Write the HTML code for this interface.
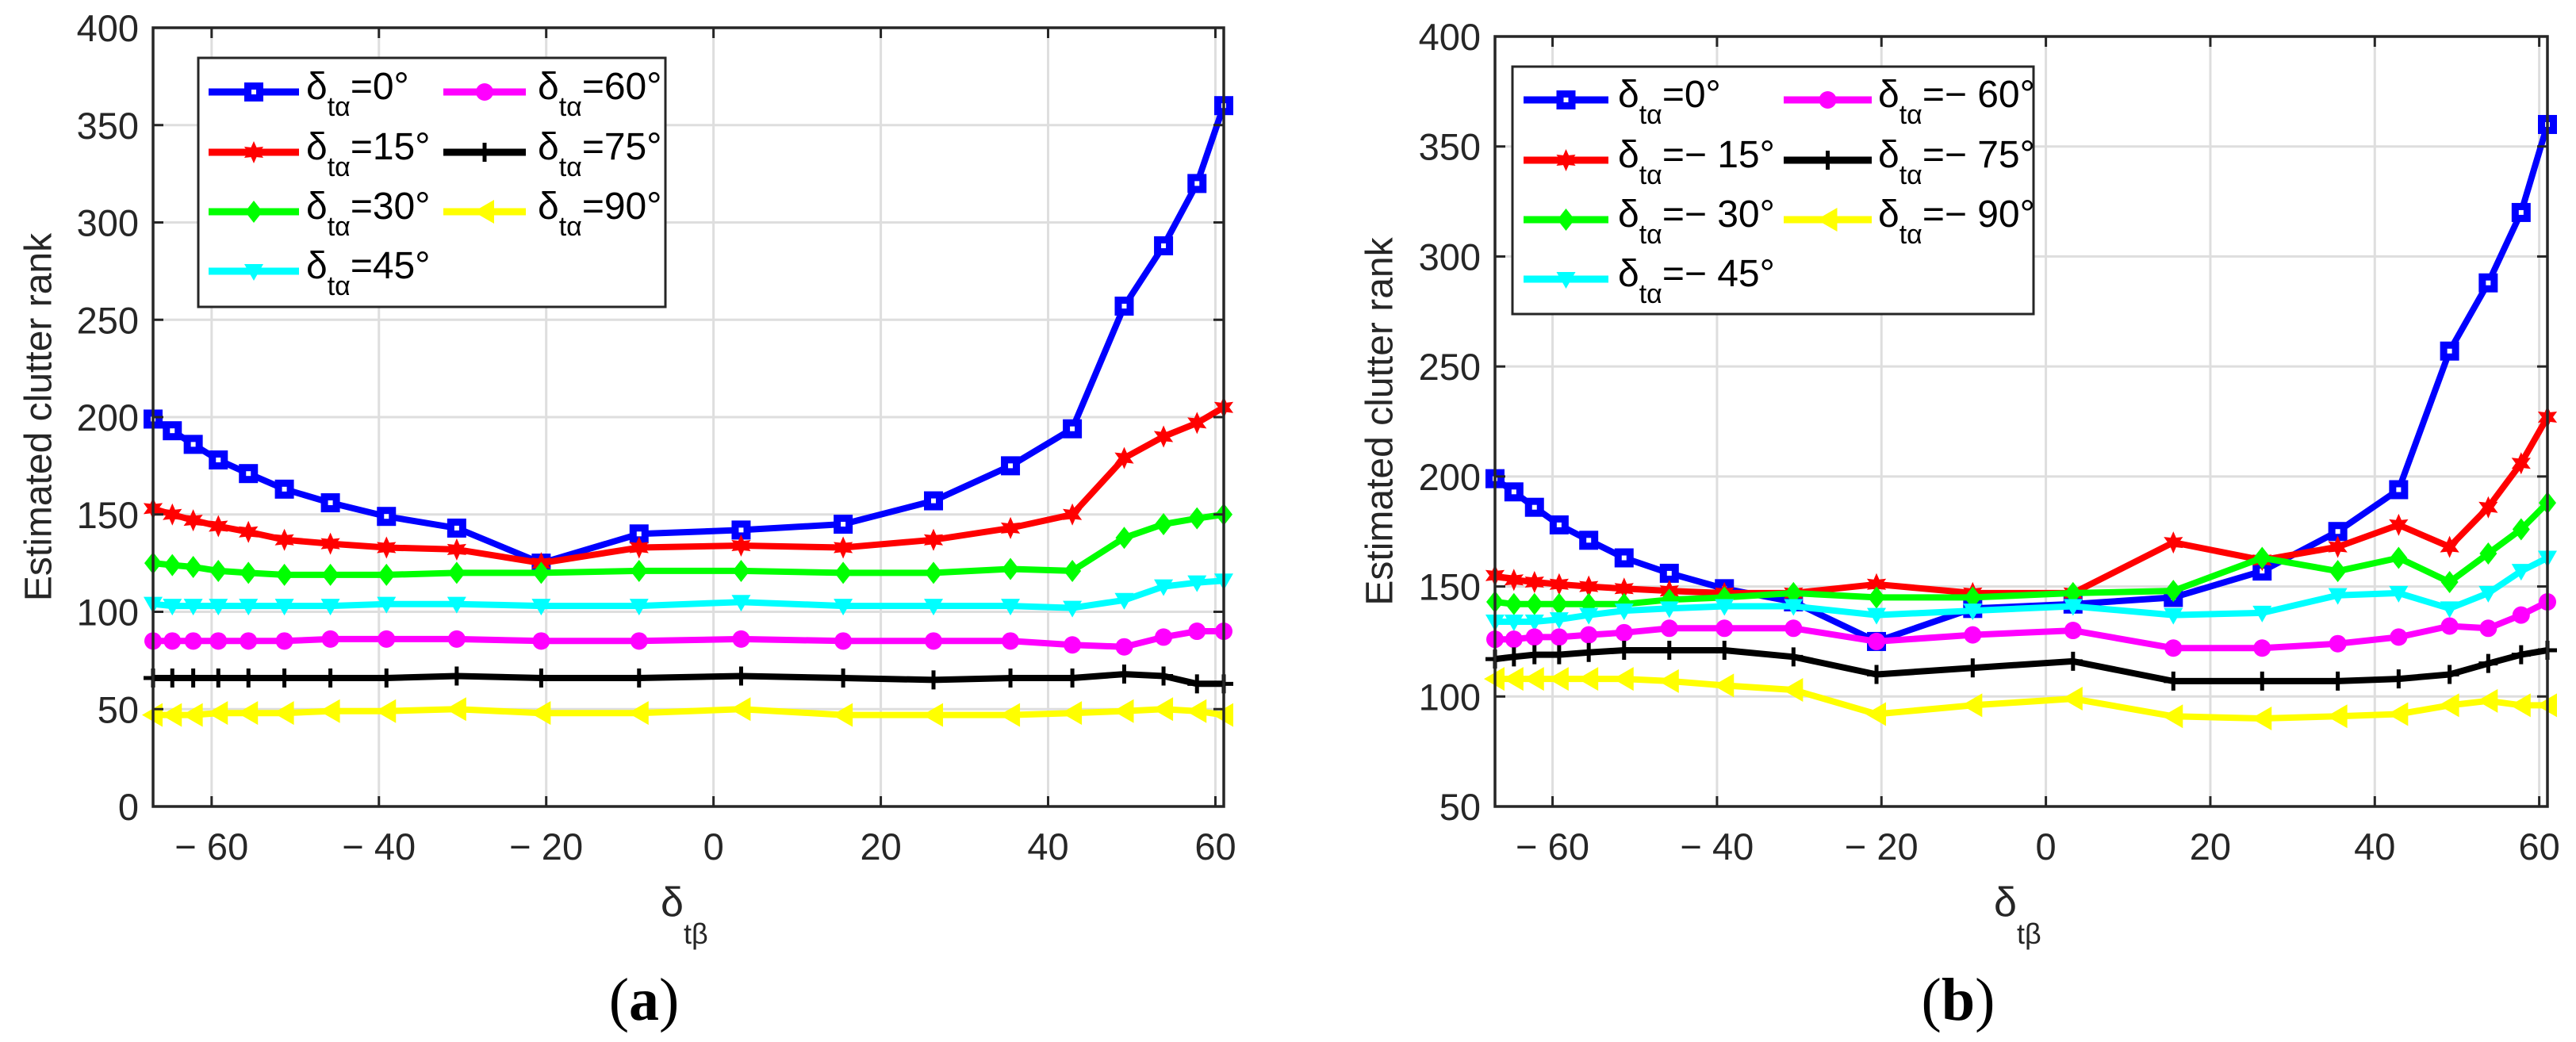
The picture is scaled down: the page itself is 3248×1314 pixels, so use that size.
<!DOCTYPE html>
<html><head><meta charset="utf-8"><style>
html,body{margin:0;padding:0;background:#fff}
svg{display:block}
text{font-family:"Liberation Sans",sans-serif;fill:#262626}
</style></head><body>
<svg id="fig" width="3248" height="1314" viewBox="0 0 3248 1314" xmlns="http://www.w3.org/2000/svg"></svg>
<script>
const xValues = [-67,-64.7,-62.2,-59.2,-55.6,-51.3,-45.8,-39.1,-30.7,-20.6,-8.9,3.3,15.5,26.3,35.5,42.9,49.1,53.8,57.8,61];
const xTicks = [-60,-40,-20,0,20,40,60];
const xTickLabels = ["\u2212 60","\u2212 40","\u2212 20","0","20","40","60"];
const yTicksA = [0,50,100,150,200,250,300,350,400];
const yTicksB = [50,100,150,200,250,300,350,400];
const seriesNames = ["0","15","30","45","60","75","90"];
const legendA = ["=0°","=15°","=30°","=45°","=60°","=75°","=90°"];
const legendB = ["=0°","=\u2212 15°","=\u2212 30°","=\u2212 45°","=\u2212 60°","=\u2212 75°","=\u2212 90°"];
const aBlue = [199,193,186,178,171,163,156,149,143,125,140,142,145,157,175,194,257,288,320,360];
const aRed = [153,150,147,144,141,137,135,133,132,125,133,134,133,137,143,150,179,190,197,205];
const aGreen = [125,124,123,121,120,119,119,119,120,120,121,121,120,120,122,121,138,145,148,150];
const aCyan = [104,103,103,103,103,103,103,104,104,103,103,105,103,103,103,102,106,113,115,116];
const aMagenta = [85,85,85,85,85,85,86,86,86,85,85,86,85,85,85,83,82,87,90,90];
const aBlack = [66,66,66,66,66,66,66,66,67,66,66,67,66,65,66,66,68,67,63,63];
const aYellow = [47,47,47,48,48,48,49,49,50,48,48,50,47,47,47,48,49,50,49,47];
const bBlue = [199,193,186,178,171,163,156,149,143,125,140,142,145,157,175,194,257,288,320,360];
const bRed = [155,153,152,151,150,149,148,147,147,151,147,147,170,162,168,178,168,186,206,227];
const bGreen = [143,142,142,142,142,142,144,145,147,145,145,147,148,163,157,163,152,165,176,188];
const bCyan = [134,134,134,135,137,139,140,141,141,137,139,141,137,138,146,147,140,147,157,163];
const bMagenta = [126,126,127,127,128,129,131,131,131,125,128,130,122,122,124,127,132,131,137,143];
const bBlack = [117,118,119,119,120,121,121,121,118,110,113,116,107,107,107,108,110,115,119,121];
const bYellow = [108,108,108,108,108,108,107,105,103,92,96,99,91,90,91,92,96,98,96,96];

const colors = ["#0000ff","#ff0000","#00ff00","#00ffff","#ff00ff","#000000","#ffff00"];
const markers = ["square","hexagram","diamond","down","circle","plus","left"];
const NS = "http://www.w3.org/2000/svg";
const svg = document.getElementById('fig');
function el(tag, attrs, parent){const e=document.createElementNS(NS,tag);for(const k in attrs)e.setAttribute(k,attrs[k]);(parent||svg).appendChild(e);return e;}

function marker(g, type, x, y, c){
  const s=12; let m;
  if(type==="square"){
    m=el('rect',{x:x-s,y:y-s,width:2*s,height:2*s,fill:c},g);
    el('rect',{x:x-3,y:y-3,width:6,height:6,fill:"#fff"},g);
  } else if(type==="hexagram"){
    let p=[];for(let i=0;i<12;i++){const r=i%2?7:14;const a=Math.PI/2+i*Math.PI/6;p.push((x+r*Math.cos(a)).toFixed(1)+","+(y-r*Math.sin(a)).toFixed(1));}
    m=el('polygon',{points:p.join(" "),fill:c},g);
  } else if(type==="diamond"){
    m=el('polygon',{points:`${x},${y-14} ${x+11},${y} ${x},${y+14} ${x-11},${y}`,fill:c},g);
  } else if(type==="down"){
    m=el('polygon',{points:`${x-12},${y-9} ${x+12},${y-9} ${x},${y+12}`,fill:c},g);
  } else if(type==="circle"){
    m=el('circle',{cx:x,cy:y,r:11,fill:c},g);
  } else if(type==="plus"){
    m=el('path',{d:`M${x-12},${y}H${x+12}M${x},${y-12}V${y+12}`,stroke:c,'stroke-width':5,fill:'none'},g);
  } else if(type==="left"){
    m=el('polygon',{points:`${x-14},${y} ${x+12},${y-15} ${x+12},${y+15}`,fill:c},g);
  }
  
  
}

function drawPanel(cfg){
  const {L,R,T,B,ymin,ymax,yTicks,series,leg,legBox,letter,letterX,xlabX,ylabX,id}=cfg;
  const g=el('g',{});
  
  
  const xs=v=>L+(v-(-67))/(61-(-67))*(R-L);
  const ys=v=>B-(v-ymin)/(ymax-ymin)*(B-T);
  // grid
  const grid=el('g',{stroke:"#dedede",'stroke-width':3},g);
  
  
  xTicks.forEach(t=>el('line',{x1:xs(t),x2:xs(t),y1:T,y2:B},grid));
  yTicks.forEach(t=>el('line',{x1:L,x2:R,y1:ys(t),y2:ys(t)},grid));
  // series
  series.forEach((vals,i)=>{
    const sg=el('g',{},g);
    
    
    const pts=vals.map((v,j)=>xs(xValues[j]).toFixed(1)+","+ys(v).toFixed(1)).join(" ");
    const pl=el('polyline',{points:pts,fill:'none',stroke:colors[i],'stroke-width':8,'stroke-linejoin':'round'},sg);
    
    
    vals.forEach((v,j)=>marker(sg,markers[i],xs(xValues[j]),ys(v),colors[i]));
  });
  // axes box
  const ax=el('rect',{x:L,y:T,width:R-L,height:B-T,fill:'none',stroke:'#262626','stroke-width':3.5},g);
  
  
  const tk=el('g',{stroke:'#262626','stroke-width':3},g);
  
  
  xTicks.forEach((t,i)=>{
    el('line',{x1:xs(t),x2:xs(t),y1:B,y2:B-13},tk);
    el('line',{x1:xs(t),x2:xs(t),y1:T,y2:T+13},tk);
    const tx=el('text',{x:xs(t),y:1084,'font-size':47,'text-anchor':'middle'},g);
    tx.textContent=xTickLabels[i];
    
    
  });
  yTicks.forEach(t=>{
    el('line',{x1:L,x2:L+13,y1:ys(t),y2:ys(t)},tk);
    el('line',{x1:R,x2:R-13,y1:ys(t),y2:ys(t)},tk);
    const tx=el('text',{x:L-18,y:ys(t)+17,'font-size':47,'text-anchor':'end'},g);
    tx.textContent=t;
    
    
  });
  // y label
  const yl=el('text',{x:ylabX,y:(T+B)/2,'font-size':48,'text-anchor':'middle',transform:`rotate(-90 ${ylabX} ${(T+B)/2})`,'dominant-baseline':'middle'},g);
  yl.textContent="Estimated clutter rank";
  
  
  // x label
  const xl=el('text',{x:xlabX,y:1155,'font-size':52},g);
  xl.innerHTML='δ<tspan font-size="36" dy="35">tβ</tspan>';
  
  
  // legend
  const lg=el('g',{},g);
  
  
  el('rect',{x:legBox.l,y:legBox.t,width:legBox.r-legBox.l,height:legBox.b-legBox.t,fill:'#fff',stroke:'#262626','stroke-width':3},lg);
  for(let i=0;i<7;i++){
    const col=i<4?0:1,row=i<4?i:i-4;
    const cy=legBox.rows[row];
    const lx1=legBox.cols[col][0],lx2=legBox.cols[col][1],tx=legBox.cols[col][2];
    const e=el('g',{},lg);
    
    
    el('line',{x1:lx1,x2:lx2,y1:cy,y2:cy,stroke:colors[i],'stroke-width':9},e);
    marker(e,markers[i],(lx1+lx2)/2,cy,colors[i]);
    const t=el('text',{x:tx,y:cy+9,'font-size':48,style:'fill:#000'},e);
    t.innerHTML='δ<tspan font-size="34" dy="21">tα</tspan><tspan dy="-21">'+leg[i]+'</tspan>';
  }
  const lt=el('text',{x:letterX,y:1286,'font-size':76,'text-anchor':'middle',style:'font-family:"Liberation Serif",serif;fill:#000'},g);
  lt.innerHTML='(<tspan font-weight="bold">'+letter+'</tspan>)';
  
  
}

drawPanel({id:'a',L:193,R:1543,T:35,B:1017,ymin:0,ymax:400,yTicks:yTicksA,
  series:[aBlue,aRed,aGreen,aCyan,aMagenta,aBlack,aYellow],leg:legendA,
  legBox:{l:250,t:73,r:839,b:387,rows:[116,192,267,342],cols:[[263,377,386],[559,663,678]]},
  letter:'a',letterX:812,xlabX:833,ylabX:52});
drawPanel({id:'b',L:1885,R:3212,T:46,B:1017,ymin:50,ymax:400,yTicks:yTicksB,
  series:[bBlue,bRed,bGreen,bCyan,bMagenta,bBlack,bYellow],leg:legendB,
  legBox:{l:1907,t:84,r:2564,b:396,rows:[126,202,277,352],cols:[[1921,2028,2040],[2249,2360,2368]]},
  letter:'b',letterX:2469,xlabX:2514,ylabX:1743});
</script>
</body></html>
